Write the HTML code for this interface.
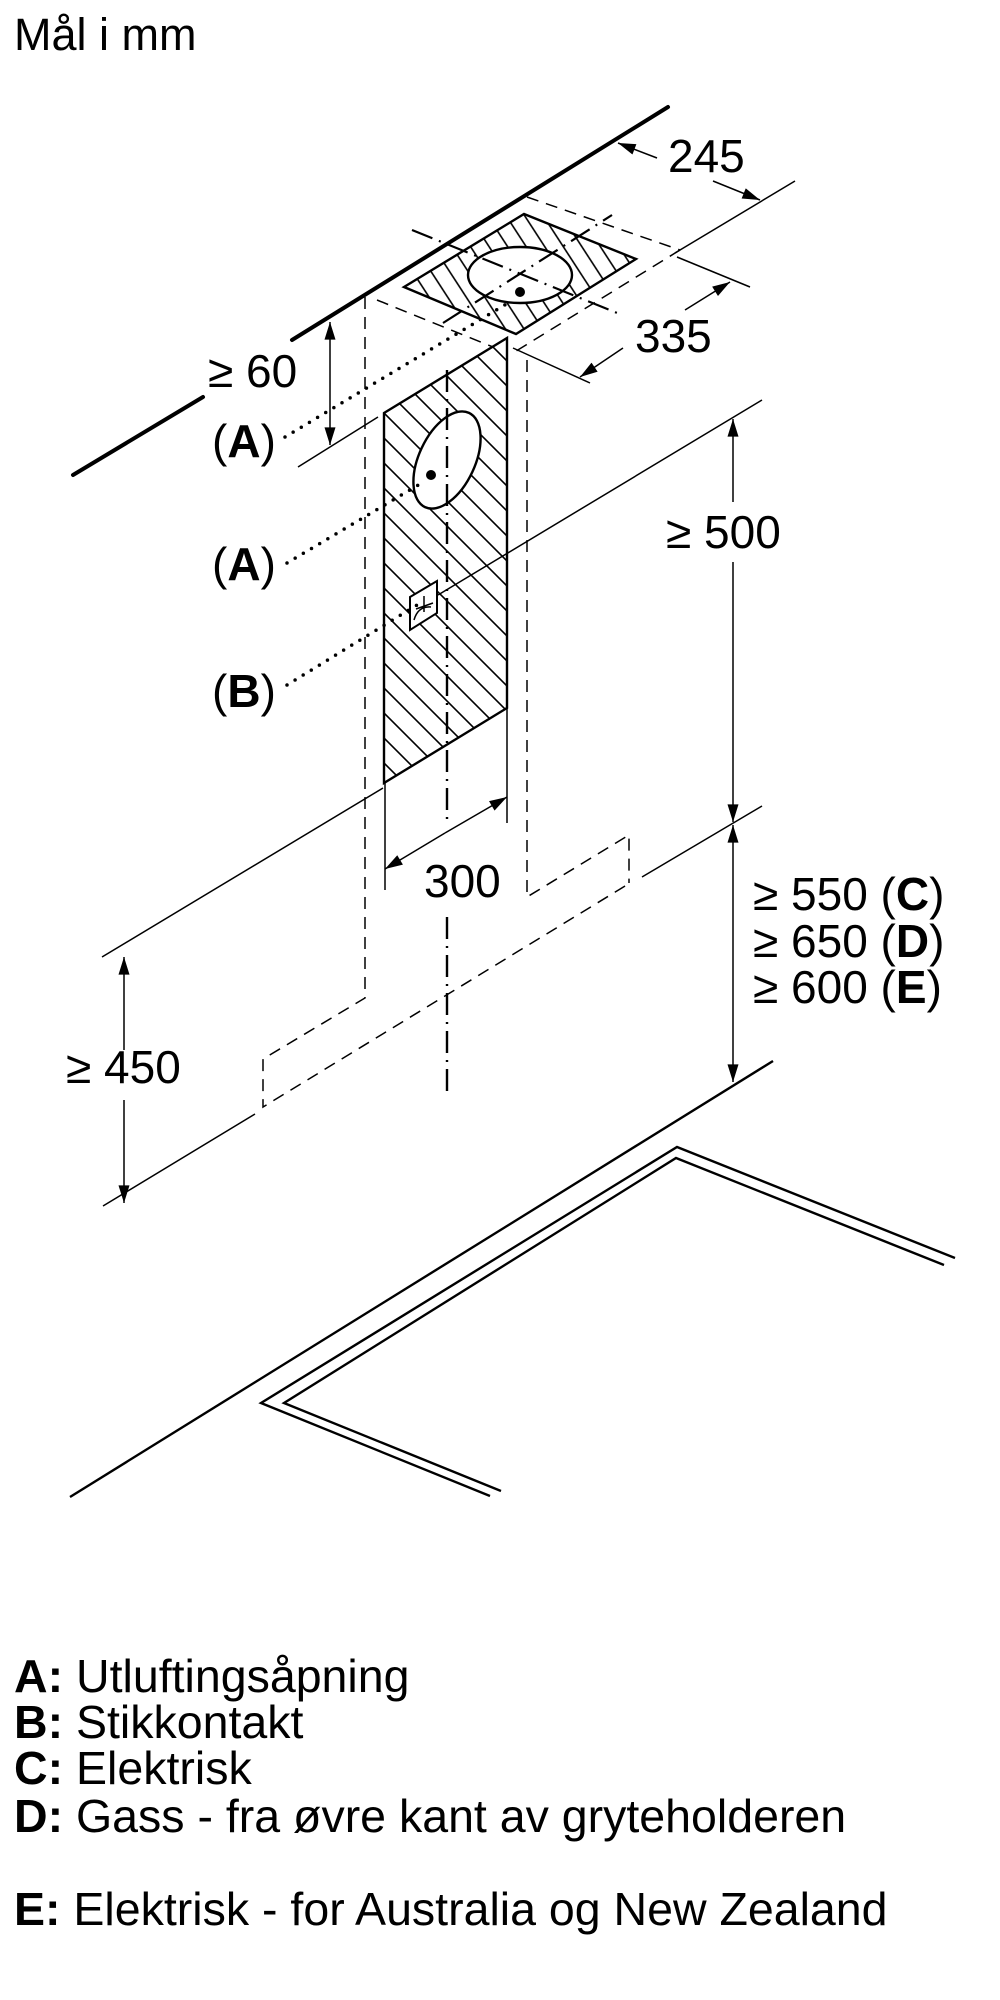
<!DOCTYPE html>
<html><head><meta charset="utf-8"><style>
html,body{margin:0;padding:0;background:#fff;}
svg{display:block;}
text{font-family:"Liberation Sans",Arial,sans-serif;fill:#000;}
</style></head><body>
<svg width="1000" height="2000" viewBox="0 0 1000 2000" xmlns="http://www.w3.org/2000/svg">
<defs>
<marker id="ar" viewBox="0 0 16 10" refX="16" refY="5" markerWidth="18" markerHeight="11" markerUnits="userSpaceOnUse" orient="auto">
<path d="M0,0 L16,5 L0,10 Z" fill="#000"/>
</marker>
<pattern id="hf" patternUnits="userSpaceOnUse" width="25" height="25" patternTransform="translate(384,413)">
<path d="M-5,-5 L30,30 M-30,-5 L5,30 M20,-5 L55,30" stroke="#000" stroke-width="1.6"/>
</pattern>
<pattern id="ht" patternUnits="userSpaceOnUse" width="22" height="22" patternTransform="translate(404,287) rotate(12)">
<path d="M-5,-5 L27,27 M-27,-5 L5,27 M17,-5 L49,27" stroke="#000" stroke-width="1.6"/>
</pattern>
</defs>

<text x="14" y="50" font-size="45">Mål i mm</text>

<g stroke="#000" stroke-width="4" stroke-linecap="round" fill="none">
<line x1="73" y1="475" x2="203" y2="397"/>
<line x1="292" y1="340" x2="668" y2="107"/>
</g>

<g stroke="#000" stroke-width="1.5" fill="none">
<line x1="298" y1="467" x2="378" y2="417"/>
<line x1="102" y1="957" x2="383" y2="788"/>
<line x1="438" y1="595" x2="762" y2="400"/>
<line x1="642" y1="877" x2="762" y2="806"/>
<line x1="103" y1="1206" x2="255" y2="1114"/>
<line x1="795" y1="181" x2="675" y2="253"/>
<line x1="677" y1="257" x2="750" y2="287"/>
<line x1="513" y1="348" x2="590" y2="383"/>
<line x1="385" y1="783" x2="385" y2="890"/>
<line x1="507" y1="708" x2="507" y2="823"/>
</g>

<g stroke="#000" stroke-width="2.4" fill="none">
<line x1="773" y1="1061" x2="70" y2="1497"/>
<polyline points="490,1496 261,1403 677,1147 955,1258"/>
<polyline points="501,1491 284,1403 676,1158 944,1265"/>
</g>

<g stroke="#000" stroke-width="1.5" fill="none" stroke-dasharray="12 8">
<polyline points="365,297 365,998 263,1059 263,1107 630,883"/>
<polyline points="527,360 527,897 629,835 629,883"/>
<line x1="527" y1="197" x2="680" y2="250"/>
<line x1="680" y1="250" x2="513" y2="353"/>
<line x1="377" y1="300" x2="493" y2="347"/>
</g>

<polygon points="404,287 524,214 636,259 516,334" fill="url(#ht)" stroke="#000" stroke-width="2.4"/>
<ellipse cx="520" cy="275" rx="52" ry="28" fill="#fff" stroke="#000" stroke-width="2.4"/>
<circle cx="520" cy="292" r="5" fill="#000"/>
<g stroke="#000" stroke-width="2.2" fill="none" stroke-dasharray="22 7 2 7">
<line x1="412" y1="230" x2="622" y2="315"/>
<line x1="443" y1="323" x2="612" y2="215"/>
</g>

<polygon points="384,413 507,338 507,708 384,783" fill="url(#hf)"/>
<polygon points="384,413 507,338 507,708 384,783" fill="none" stroke="#000" stroke-width="2.4"/>
<ellipse cx="447" cy="460" rx="28" ry="52" transform="rotate(25 447 460)" fill="#fff" stroke="#000" stroke-width="2.4"/>
<circle cx="431" cy="475" r="5" fill="#000"/>
<polygon points="410,597 437,581 437,613 410,630" fill="#fff" stroke="#000" stroke-width="2"/>
<path d="M414,620 Q418,606 431,607 M424,596 L424,612 M416,609 L433,603" stroke="#000" stroke-width="1.5" fill="none"/>

<g stroke="#000" stroke-width="2.4" fill="none" stroke-dasharray="22 7 2 7">
<line x1="447" y1="370" x2="447" y2="823"/>
<line x1="447" y1="917" x2="447" y2="1092"/>
</g>

<g stroke="#000" stroke-width="3.5" stroke-linecap="round" fill="none" stroke-dasharray="0 9.5">
<line x1="285" y1="437" x2="513" y2="300"/>
<line x1="287" y1="563" x2="425" y2="481"/>
<line x1="287" y1="685" x2="417" y2="605"/>
</g>

<g stroke="#000" stroke-width="1.5" fill="none" marker-end="url(#ar)">
<line x1="330" y1="380" x2="330" y2="322"/>
<line x1="330" y1="380" x2="330" y2="445"/>
<line x1="733" y1="502" x2="733" y2="419"/>
<line x1="733" y1="562" x2="733" y2="822"/>
<line x1="733" y1="880" x2="733" y2="825"/>
<line x1="733" y1="880" x2="733" y2="1082"/>
<line x1="124" y1="1050" x2="124" y2="957"/>
<line x1="124" y1="1100" x2="124" y2="1203"/>
<line x1="445" y1="833" x2="507" y2="797"/>
<line x1="445" y1="833" x2="385" y2="869"/>
<line x1="657" y1="158" x2="618" y2="143"/>
<line x1="713" y1="181" x2="760" y2="200"/>
<line x1="685" y1="310" x2="730" y2="282"/>
<line x1="623" y1="348" x2="580" y2="377"/>
</g>

<g font-size="46">
<text x="668" y="172">245</text>
<text x="635" y="352">335</text>
<text x="208" y="387">≥ 60</text>
<text x="666" y="548">≥ 500</text>
<text x="424" y="897">300</text>
<text x="66" y="1083">≥ 450</text>
<text x="753" y="910">≥ 550 (<tspan font-weight="bold">C</tspan>)</text>
<text x="753" y="957">≥ 650 (<tspan font-weight="bold">D</tspan>)</text>
<text x="753" y="1003">≥ 600 (<tspan font-weight="bold">E</tspan>)</text>
<text x="212" y="457">(<tspan font-weight="bold">A</tspan>)</text>
<text x="212" y="580">(<tspan font-weight="bold">A</tspan>)</text>
<text x="212" y="707">(<tspan font-weight="bold">B</tspan>)</text>
</g>

<g font-size="46.5">
<text x="14" y="1692"><tspan font-weight="bold">A:</tspan> Utluftingsåpning</text>
<text x="14" y="1738"><tspan font-weight="bold">B:</tspan> Stikkontakt</text>
<text x="14" y="1784"><tspan font-weight="bold">C:</tspan> Elektrisk</text>
<text x="14" y="1832"><tspan font-weight="bold">D:</tspan> Gass - fra øvre kant av gryteholderen</text>
<text x="14" y="1925"><tspan font-weight="bold">E:</tspan> Elektrisk - for Australia og New Zealand</text>
</g>
</svg>
</body></html>
